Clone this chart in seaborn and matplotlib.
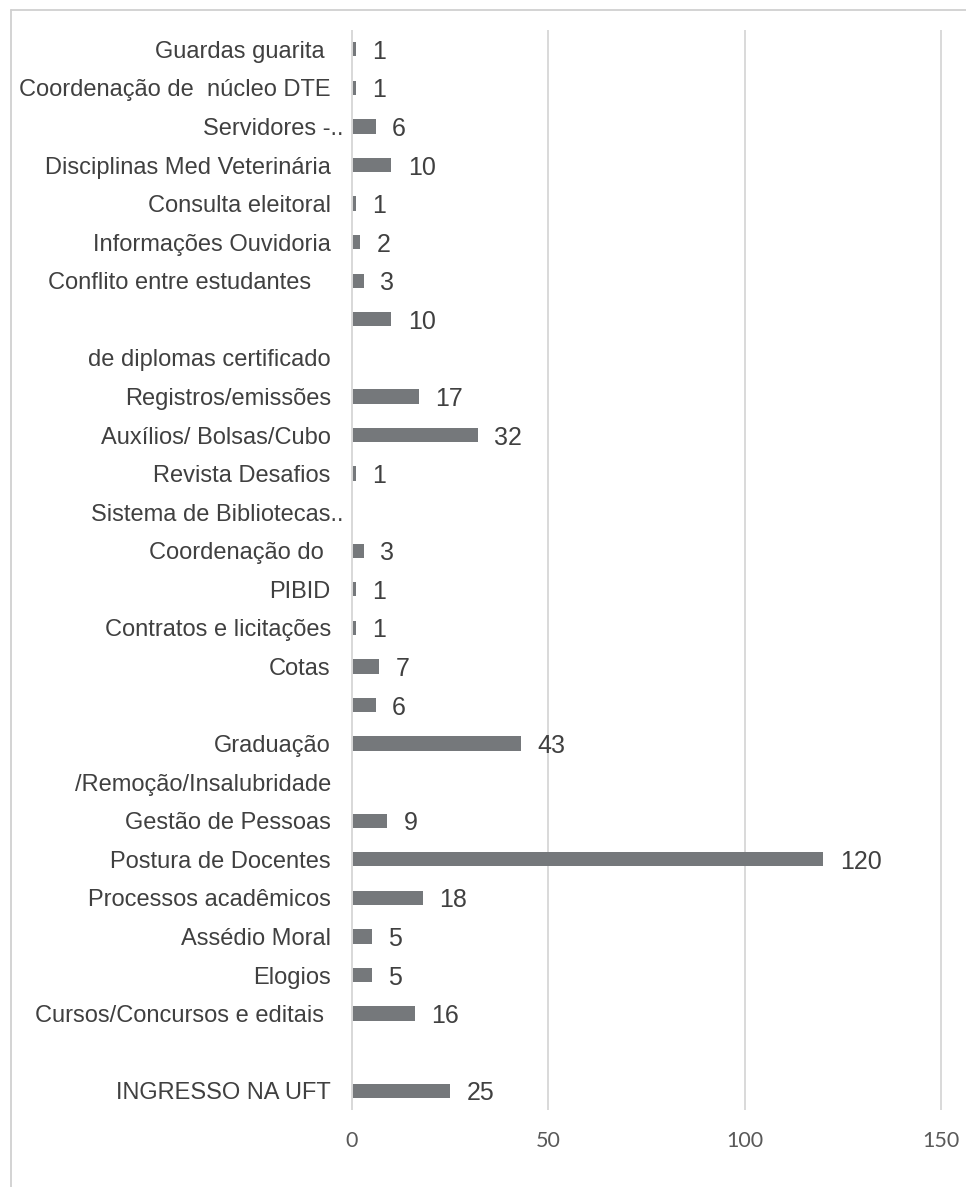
import numpy as np
import pandas as pd
import matplotlib
matplotlib.use("Agg")
import matplotlib.pyplot as plt
import matplotlib.transforms as mtransforms
from matplotlib.lines import Line2D
import seaborn as sns

# rows from top to bottom, as in the original Excel chart (some labels are split/empty)
labels = [
    "Guardas guarita ", "Coordenação de  núcleo DTE", "Servidores -..",
    "Disciplinas Med Veterinária", "Consulta eleitoral", "Informações Ouvidoria",
    "Conflito entre estudantes   ", "", "de diplomas certificado", "Registros/emissões",
    "Auxílios/ Bolsas/Cubo", "Revista Desafios", "Sistema de Bibliotecas..",
    "Coordenação do ", "PIBID", "Contratos e licitações", "Cotas", "", "Graduação",
    "/Remoção/Insalubridade", "Gestão de Pessoas", "Postura de Docentes",
    "Processos acadêmicos", "Assédio Moral", "Elogios", "Cursos/Concursos e editais ",
    "", "INGRESSO NA UFT",
]
counts = [1, 1, 6, 10, 1, 2, 3, 10, np.nan, 17, 32, 1, np.nan, 3, 1, 1, 7, 6, 43, np.nan,
          9, 120, 18, 5, 5, 16, np.nan, 25]
x_ticks = [0, 50, 100, 150]

BAR = "#75787b"
TXT = "#404040"
GRID = "#d9d9d9"

sns.set_style("white")
plt.rcParams["font.family"] = ["Liberation Sans", "DejaVu Sans"]

df = pd.DataFrame({"row": [f"r{i}" for i in range(len(labels))], "count": counts})

fig = plt.figure(figsize=(9.66, 11.87), dpi=100)
W, H = 966, 1187
ax = fig.add_axes([350.8 / W, 1 - 1110 / H, (949 - 350.8) / W, 1080 / H])

sns.barplot(data=df, x="count", y="row", order=df["row"], orient="h",
            color=BAR, saturation=1, width=0.37, linewidth=0, ax=ax)

bars = ax.containers[0]
vals = ax.bar_label(bars, labels=[f"{b.get_width():.0f}" if b.get_width() > 0 else "" for b in bars],
                    padding=12, fontsize=18, color=TXT)
for t in vals:
    t.set_va("center_baseline")

ax.set_xlim(-0.3, 152)
ax.set_ylim(len(labels) - 0.5, -0.5)
ax.set_xticks(x_ticks)
ax.set_xticklabels([str(t) for t in x_ticks], family=["Lato", "DejaVu Sans"],
                   fontsize=15.5, color="#595959")
ax.set_yticks(range(len(labels)))
ax.set_yticklabels(labels, fontsize=17, color=TXT)
ax.tick_params(axis="y", length=0, pad=14.4)
ax.tick_params(axis="x", length=0, pad=15)
ax.set_xlabel("")
ax.set_ylabel("")
ax.grid(axis="x", color=GRID, lw=1.4)
ax.grid(axis="y", visible=False)
ax.set_axisbelow(True)
ax.axvline(0, color=GRID, lw=1.4, zorder=5)
for s in ax.spines.values():
    s.set_visible(False)

# Excel truncated labels sit closer to the axis
shift = mtransforms.ScaledTranslation(0.13, 0, fig.dpi_scale_trans)
for lab in ax.get_yticklabels():
    if lab.get_text().endswith(".."):
        lab.set_transform(lab.get_transform() + shift)

# chart area border (cut off on the right and bottom)
fig.add_artist(Line2D([11 / W, 1], [1 - 10 / H, 1 - 10 / H], color="#d0d0d0", lw=1.3,
                      transform=fig.transFigure))
fig.add_artist(Line2D([11 / W, 11 / W], [0, 1 - 10 / H], color="#d0d0d0", lw=1.3,
                      transform=fig.transFigure))

fig.savefig("out.png", dpi=100)
